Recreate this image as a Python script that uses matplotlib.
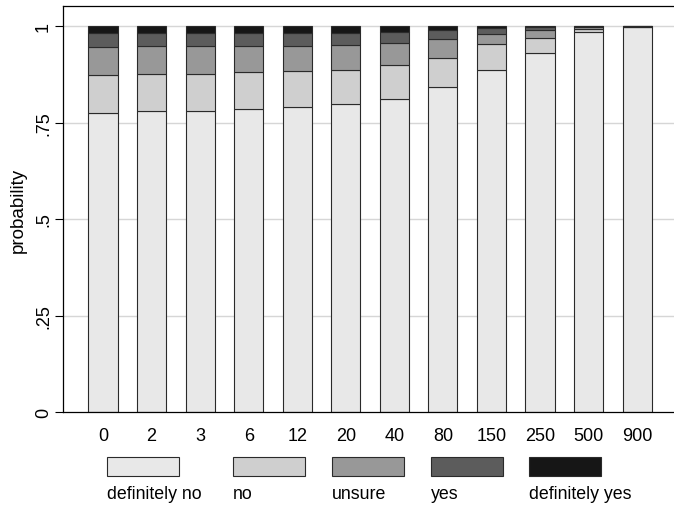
import numpy as np
import matplotlib
matplotlib.use('Agg')
import matplotlib.pyplot as plt
from matplotlib.patches import Rectangle

plt.rcParams['font.family'] = ['Liberation Sans', 'DejaVu Sans']

# --- data ---
categories = ['0', '2', '3', '6', '12', '20', '40', '80', '150', '250', '500', '900']
definitely_no = [0.776, 0.780, 0.781, 0.785, 0.790, 0.797, 0.811, 0.841, 0.886, 0.931, 0.985, 0.997]
no = [0.096, 0.095, 0.096, 0.096, 0.093, 0.090, 0.088, 0.076, 0.067, 0.039, 0.007, 0.0015]
unsure = [0.073, 0.073, 0.071, 0.067, 0.066, 0.064, 0.058, 0.050, 0.027, 0.020, 0.005, 0.0005]
yes = [0.036, 0.033, 0.033, 0.033, 0.034, 0.032, 0.027, 0.022, 0.014, 0.007, 0.002, 0.0005]
definitely_yes = [0.019, 0.019, 0.019, 0.019, 0.017, 0.017, 0.016, 0.011, 0.006, 0.003, 0.001, 0.0005]

series_names = ['definitely no', 'no', 'unsure', 'yes', 'definitely yes']
series_values = [definitely_no, no, unsure, yes, definitely_yes]
colors = ['#e8e8e8', '#cfcfcf', '#989898', '#5c5c5c', '#161616']

W, H = 674, 506
fig = plt.figure(figsize=(W / 100, H / 100), dpi=100)
ax = fig.add_axes([63 / W, (H - 413) / H, (W - 63) / W, (413 - 7) / H])

x = np.arange(len(categories))
bottom = np.zeros(len(categories))
for name, vals, col in zip(series_names, series_values, colors):
    ax.bar(x, vals, width=0.6, bottom=bottom, color=col, edgecolor='#2a2a2a',
           linewidth=0.8, zorder=2, label=name)
    bottom += np.array(vals)

# axes styling (Stata-like)
ax.set_xlim(-0.825, 11.76)
ax.set_ylim(0, 1.052)
ax.set_yticks([0, 0.25, 0.5, 0.75, 1])
ax.set_yticklabels(['0', '.25', '.5', '.75', '1'], rotation=90, va='center', fontsize=13)
ax.set_xticks(x)
ax.set_xticklabels(categories, fontsize=13)
ax.tick_params(axis='x', length=0, pad=11)
ax.tick_params(axis='y', length=6, width=0.8, pad=2)
ax.set_ylabel('probability', fontsize=13.5, labelpad=6)
for yv in [0.25, 0.5, 0.75, 1.0]:
    ax.axhline(yv, color='#d6d6d6', linewidth=1.0, zorder=0)
ax.spines['right'].set_visible(False)
for s in ['left', 'top', 'bottom']:
    ax.spines[s].set_linewidth(0.9)

# legend: keys in one row, labels under the keys
key_left = [107, 233, 332, 431, 529]
for left, name, col in zip(key_left, series_names, colors):
    fig.add_artist(Rectangle((left / W, (H - 477) / H), 72 / W, 19 / H,
                             transform=fig.transFigure, facecolor=col,
                             edgecolor='#2a2a2a', linewidth=0.8))
    fig.text(left / W, (H - 495) / H, name, fontsize=12.8, ha='left', va='center')

fig.savefig('out.png', dpi=100)
